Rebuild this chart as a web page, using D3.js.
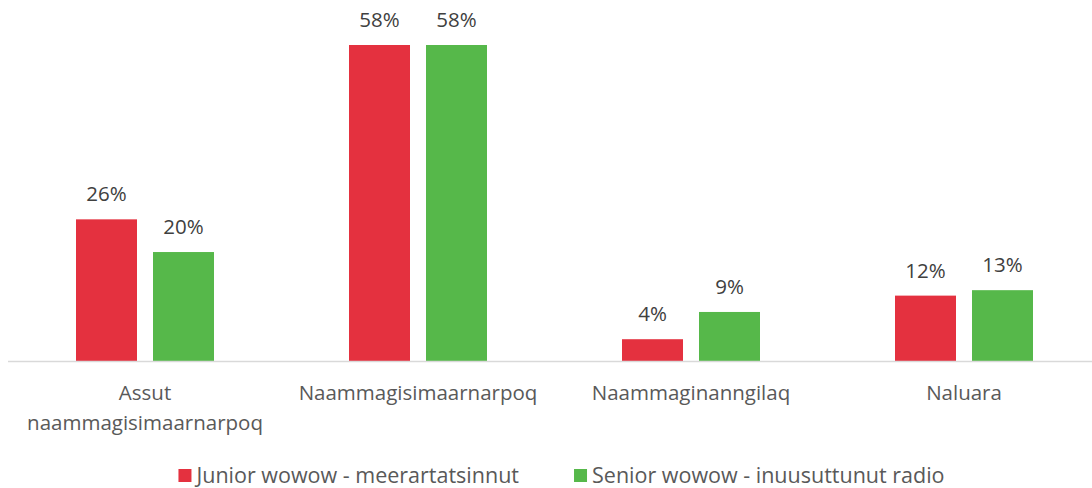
<!DOCTYPE html>
<html>
<head>
<meta charset="utf-8">
<script src="https://cdn.jsdelivr.net/npm/d3@7"></script>
<style>
  html, body { margin: 0; padding: 0; background: #ffffff; }
  svg { display: block; }
  text { font-family: "Open Sans", "DejaVu Sans", sans-serif; }
</style>
</head>
<body>
<svg id="chart" width="1092" height="488"></svg>
<script>
// Survey answers per category, two respondent groups
const categories = ["Assut naammagisimaarnarpoq", "Naammagisimaarnarpoq", "Naammaginanngilaq", "Naluara"];
const seriesNames = ["Junior wowow - meerartatsinnut", "Senior wowow - inuusuttunut radio"];
const juniorValues = [0.26, 0.58, 0.04, 0.12];
const seniorValues = [0.20, 0.58, 0.09, 0.13];
const seriesColors = ["#E4313F", "#56B84A"];

const seriesValues = [juniorValues, seniorValues];

const svg = d3.select("#chart");
const fontSize = 20.5;
const legendFontSize = 21.5;
const baseY = 361;

// Category bands span a bit past the right edge of the canvas
const x0 = d3.scaleBand()
  .domain(categories)
  .range([8.5, 1100.5])
  .paddingInner(135 / 273)
  .paddingOuter(135 / 273 / 2);

const x1 = d3.scaleBand()
  .domain(seriesNames)
  .range([0, x0.bandwidth()])
  .paddingInner(16 / 77);

const y = d3.scaleLinear()
  .domain([0, 0.6])
  .range([baseY, baseY - 0.6 * (316 / 0.58)]);

const fmt = d3.format(".0%");

// Bars and value labels
const groups = svg.append("g").selectAll("g")
  .data(categories)
  .join("g")
  .attr("transform", d => `translate(${x0(d)},0)`);

groups.selectAll("rect")
  .data((c, i) => seriesNames.map((s, k) => ({ s, k, v: seriesValues[k][i] })))
  .join("rect")
  .attr("x", d => x1(d.s))
  .attr("y", d => y(d.v))
  .attr("width", x1.bandwidth())
  .attr("height", d => y(0) - y(d.v))
  .attr("fill", d => seriesColors[d.k]);

groups.selectAll("text.value")
  .data((c, i) => seriesNames.map((s, k) => ({ s, k, v: seriesValues[k][i] })))
  .join("text")
  .attr("class", "value")
  .attr("x", d => x1(d.s) + x1.bandwidth() / 2)
  .attr("y", d => y(d.v) - 18)
  .attr("text-anchor", "middle")
  .attr("font-size", fontSize)
  .attr("fill", "#404040")
  .text(d => fmt(d.v));

// Category axis
const xAxis = d3.axisBottom(x0).tickSize(0).tickPadding(0);
const axisG = svg.append("g")
  .attr("transform", `translate(0,${baseY})`)
  .call(xAxis);
axisG.select(".domain")
  .attr("d", `M8,0.5H1092`)
  .attr("stroke", "#D9D9D9")
  .attr("stroke-width", 1.5);

// Word-wrap tick labels to the band step
const maxW = x0.step() - 10;
axisG.selectAll(".tick text")
  .attr("font-size", fontSize)
  .attr("font-family", null)
  .attr("fill", "#595959")
  .attr("dy", null)
  .attr("y", 0)
  .each(function (d) {
    const t = d3.select(this);
    const words = d.split(/\s+/);
    t.text(null);
    let lines = [];
    let line = [];
    const probe = t.append("tspan");
    words.forEach(w => {
      const trial = line.concat([w]).join(" ");
      probe.text(trial);
      if (probe.node().getComputedTextLength() > maxW && line.length) {
        lines.push(line.join(" "));
        line = [w];
      } else {
        line.push(w);
      }
    });
    lines.push(line.join(" "));
    probe.remove();
    lines.forEach((l, i) => {
      t.append("tspan")
        .attr("x", 0)
        .attr("y", 39 + i * 30)
        .text(l);
    });
  });

// Legend
const legend = svg.append("g");
const items = legend.selectAll("g")
  .data(seriesNames)
  .join("g");
items.append("rect")
  .attr("width", 13)
  .attr("height", 13)
  .attr("y", 469)
  .attr("fill", (d, i) => seriesColors[i]);
items.append("text")
  .attr("x", 18)
  .attr("y", 483)
  .attr("font-size", legendFontSize)
  .attr("fill", "#595959")
  .text(d => d);

let offsets = [];
let cursor = 0;
items.each(function () {
  const w = d3.select(this).select("text").node().getComputedTextLength() + 18;
  offsets.push(cursor);
  cursor += w + 55;
});
const totalW = cursor - 55;
const startX = 561.5 - totalW / 2;
items.attr("transform", (d, i) => `translate(${startX + offsets[i]},0)`);
</script>
</body>
</html>
